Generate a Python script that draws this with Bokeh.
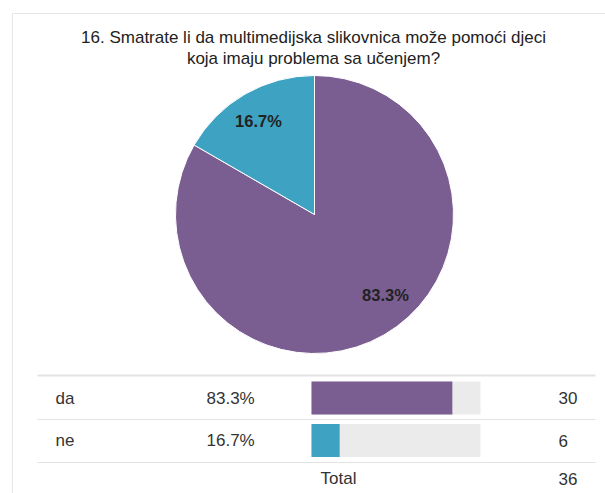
import math
from bokeh.plotting import figure
from bokeh.models import Range1d
from bokeh.core.properties import value
from bokeh.embed import file_html
from bokeh.resources import INLINE

# ---- data ----
title_lines = ["16. Smatrate li da multimedijska slikovnica može pomoći djeci",
               "koja imaju problema sa učenjem?"]
categories = ["da", "ne"]
counts = [30, 6]
pct_labels = ["83.3%", "16.7%"]
colors = ["#7b5e91", "#3ea3c2"]
total_label = "Total"

total = sum(counts)
FONT = value("Liberation Sans")

W, H = 605, 493
p = figure(width=W, height=H, x_range=Range1d(0, W), y_range=Range1d(0, H),
           output_backend="svg", toolbar_location=None, min_border=0)
p.axis.visible = False
p.grid.visible = False
p.outline_line_color = None
p.background_fill_color = "white"
p.border_fill_color = "white"

def Y(s):
    return H - s

# card border
p.segment(x0=[12, 12], y0=[Y(13), Y(13)], x1=[605, 12], y1=[Y(13), Y(493)],
          line_color="#e6e6e6", line_width=1)

# title
p.text(x=[313, 313], y=[Y(37), Y(58)], text=title_lines, text_font=FONT,
       text_font_size="17px", text_color="#222222", text_align="center",
       text_baseline="middle")

# pie
cx, cy, r = 314, Y(214), 139
starts, ends = [], []
cum = 0
for c in counts:
    ends.append(math.pi / 2 - 2 * math.pi * cum / total)
    cum += c
    starts.append(math.pi / 2 - 2 * math.pi * cum / total)
p.wedge(x=cx, y=cy, radius=r, start_angle=starts, end_angle=ends,
        fill_color=colors, line_color="white", line_width=1)

# pie labels
label_pos = [(385, 294), (258, 120)]
p.text(x=[lp[0] for lp in label_pos], y=[Y(lp[1]) for lp in label_pos],
       text=pct_labels, text_font=FONT, text_font_size="16.5px",
       text_font_style="bold", text_color="#222222", text_align="center",
       text_baseline="middle")

# table
row_y = [397.5, 440]
bar_left, bar_full, bar_h = 311, 169, 33
p.segment(x0=[37], y0=[Y(375)], x1=[595], y1=[Y(375)], line_color="#e3e3e3", line_width=2)
p.segment(x0=[37, 37], y0=[Y(419), Y(462)], x1=[595, 595], y1=[Y(419), Y(462)],
          line_color="#e3e3e3", line_width=1)
p.hbar(y=[Y(v) for v in row_y], left=bar_left, right=bar_left + bar_full,
       height=bar_h, fill_color="#ebebeb", line_color=None)
p.hbar(y=[Y(v) for v in row_y], left=bar_left,
       right=[bar_left + bar_full * c / total for c in counts],
       height=bar_h, fill_color=colors, line_color=None)

tk = dict(text_font=FONT, text_font_size="17px", text_color="#333333",
          text_baseline="middle", text_align="left")
p.text(x=55, y=[Y(v) for v in row_y], text=categories, **tk)
p.text(x=206, y=[Y(v) for v in row_y], text=pct_labels, **tk)
p.text(x=558, y=[Y(v) for v in row_y], text=[str(c) for c in counts], **tk)
p.text(x=[320], y=[Y(478)], text=[total_label], **tk)
p.text(x=[558], y=[Y(478)], text=[str(total)], **tk)

open("out.html", "w").write(file_html(p, INLINE))
